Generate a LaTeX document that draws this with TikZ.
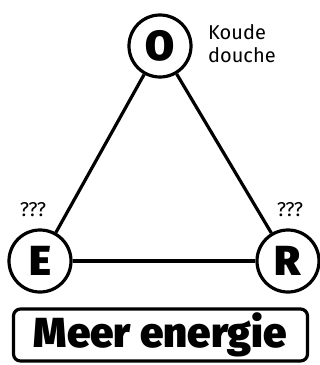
\documentclass[tikz,border=0pt]{standalone}
\usepackage{fontspec}
\setmainfont{Fira Sans}
\IfFontExistsTF{Fira Sans Black}{\newfontfamily\heavyfont{Fira Sans Black}}{\IfFontExistsTF{Fira Sans ExtraBold}{\newfontfamily\heavyfont{Fira Sans ExtraBold}}{\newcommand\heavyfont{\bfseries}}}
\begin{document}
\begin{tikzpicture}[x=1pt,y=-1pt,
  vert/.style={circle,draw,line width=3.2pt,minimum size=62pt,inner sep=0pt,font=\fontsize{42}{42}\selectfont\heavyfont},
  lbl/.style={font=\fontsize{20}{23}\selectfont,align=left,inner sep=0pt},
  edge/.style={line width=3.2pt}]
\useasboundingbox (0,0) rectangle (320,365);
\node[vert] (O) at (160,46) {O};
\node[vert] (E) at (40,261) {E};
\node[vert] (R) at (288,261) {R};
\draw[edge] (O) -- (E);
\draw[edge] (O) -- (R);
\draw[edge] (E) -- (R);
\node[lbl,anchor=west] (k) at (208,44) {Koude\\douche};
\node[lbl] (q1) at (33,210) {???};
\node[lbl] (q2) at (290,210) {???};
\node[draw,line width=3.2pt,rounded corners=7pt,minimum width=294pt,minimum height=52pt,inner sep=0pt,font=\fontsize{42}{42}\selectfont\heavyfont] (m) at (160.5,335) {Meer energie};
\end{tikzpicture}
\end{document}
